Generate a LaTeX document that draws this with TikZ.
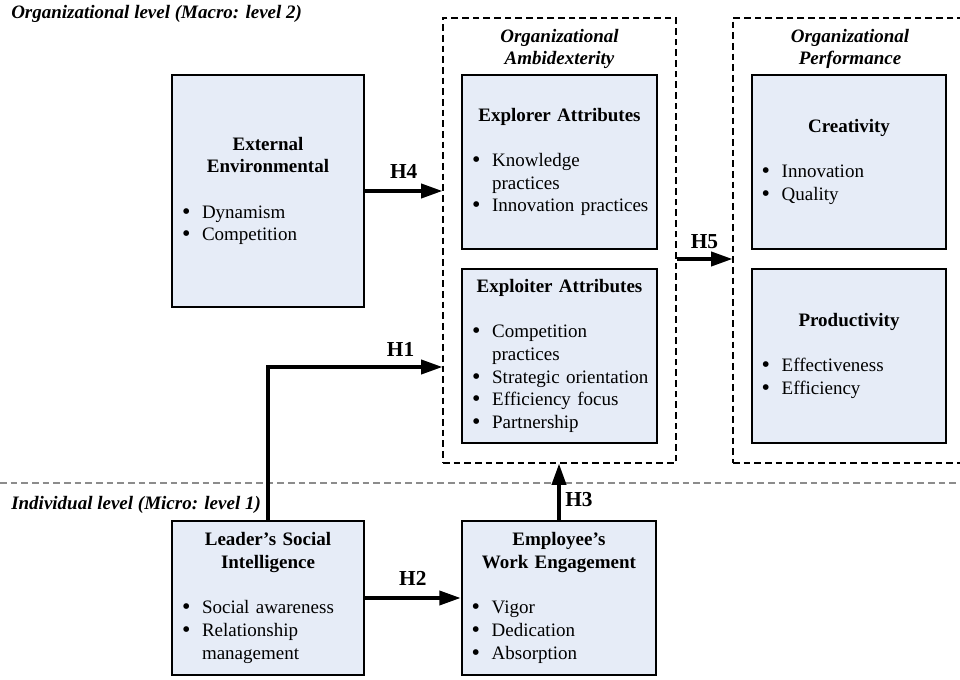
\documentclass[tikz,border=0pt]{standalone}
\usepackage{fontspec}
\setmainfont{Liberation Serif}
\usepackage{tikz}
\usetikzlibrary{arrows.meta,positioning,calc}
\definecolor{boxblue}{RGB}{230,236,247}
\definecolor{linegray}{RGB}{140,140,140}
\newcommand{\boxfont}{\fontsize{14.25pt}{17pt}\selectfont\hyphenpenalty=10000}
\newcommand{\boxhead}[1]{{\centering\bfseries #1\par}\vspace{\baselineskip}}
\newcommand{\bdot}{\raisebox{-0.8pt}{\fontsize{18pt}{18pt}\selectfont\textbullet}}
\newcommand{\bitem}[1]{\par\raggedright\noindent\hangindent=19.5pt\hangafter=1\hspace*{4.5pt}\makebox[15pt][l]{\bdot}#1}
\tikzstyle{factor} = [rectangle, minimum width=146pt, minimum height=130.5pt, text width=140pt, inner xsep=3pt, inner ysep=3pt, draw=black, line width=1.5pt, fill=boxblue, font=\boxfont]
\tikzstyle{groupbox} = [rectangle, draw=black, line width=0.8pt, dash pattern=on 5pt off 3pt]
\tikzstyle{grouptitle} = [font=\boxfont\bfseries\itshape, align=center, inner sep=0pt]
\tikzstyle{levelnote} = [font=\boxfont\bfseries\itshape, anchor=west, inner sep=0pt]
\tikzstyle{levelline} = [linegray, line width=1.1pt, dash pattern=on 5pt off 3pt]
\tikzstyle{arrow} = [line width=2.8pt, -{Triangle[length=16pt,width=10.5pt]}]
\tikzstyle{hyp} = [font=\fontsize{16pt}{18pt}\selectfont\bfseries]

\begin{document}
\begin{tikzpicture}[x=0.75pt, y=-0.75pt, node distance=145.5pt]
\useasboundingbox (0,0) rectangle (960,680);

% levels
\node (macro) [levelnote] at (11,14) {Organizational level (Macro: level 2)};
\node (micro) [levelnote] at (11,505) {Individual level (Micro: level 1)};
\draw [levelline] (0,483) -- (960,483);

% macro level
\node (ext) [factor, minimum width=144pt, text width=138pt, minimum height=174pt] at (268,191)
  {\boxhead{External\\Environmental}\bitem{Dynamism}\bitem{Competition}\par};

\node (amb) [groupbox, minimum width=174.75pt, minimum height=333.75pt] at (559.5,240.5) {};
\node (ambtitle) [grouptitle] at (559.5,49) {Organizational\\Ambidexterity};
\node (explorer) [factor] at (559.5,162)
  {\boxhead{Explorer Attributes}\bitem{Knowledge\newline practices}\bitem{Innovation practices}\par};
\node (exploiter) [factor, below of=explorer]
  {\boxhead{Exploiter Attributes}\bitem{Competition\newline practices}\bitem{Strategic orientation}\bitem{Efficiency focus}\bitem{Partnership}\par};

\node (perf) [groupbox, minimum width=171.75pt, minimum height=333.75pt] at (847.5,240.5) {};
\node (perftitle) [grouptitle] at (850,49) {Organizational\\Performance};
\node (creat) [factor] at (849,162)
  {\boxhead{Creativity}\bitem{Innovation}\bitem{Quality}\par};
\node (prod) [factor, below of=creat]
  {\boxhead{Productivity}\bitem{Effectiveness}\bitem{Efficiency}\par};

% micro level
\node (leader) [factor, minimum width=144pt, text width=138pt, minimum height=115.5pt] at (268,598)
  {\boxhead{Leader’s Social\\Intelligence}\bitem{Social awareness}\bitem{Relationship\newline management}\par};
\node (employee) [factor, minimum height=115.5pt, right of=leader, node distance=218.25pt]
  {\boxhead{Employee’s\\Work Engagement}\bitem{Vigor}\bitem{Dedication}\bitem{Absorption}\par};

% hypotheses
\coordinate (split) at ($(explorer.south)!0.5!(exploiter.north)$);
\coordinate (h1) at ($(exploiter.west)+(0,11)$);
\draw [arrow] (ext.east) -- (ext.east -| amb.west) node [hyp, midway, above=5pt] {H4};
\draw [arrow] (split -| amb.east) -- (split -| perf.west) node [hyp, midway, above=3pt] {H5};
\draw [arrow] (leader.north) |- (h1 -| amb.west) node [hyp, pos=0.88, above=3pt] {H1};
\draw [arrow] (leader.east) -- (employee.west) node [hyp, midway, above=5pt] {H2};
\draw [arrow] (employee.north) -- (employee.north |- amb.south) node [hyp, pos=0.36, right=0pt] {H3};
\end{tikzpicture}
\end{document}
